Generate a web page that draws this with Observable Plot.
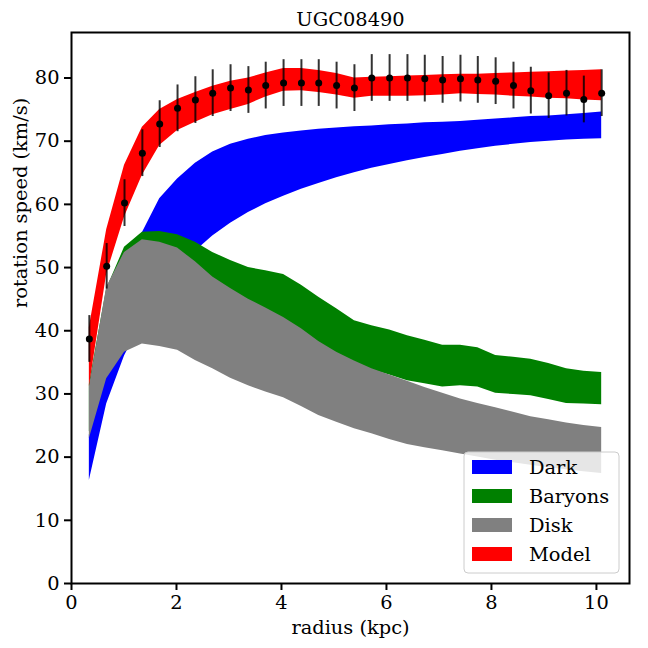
<!DOCTYPE html>
<html>
<head>
<meta charset="utf-8">
<script src="https://cdn.jsdelivr.net/npm/d3@7"></script>
<script src="https://cdn.jsdelivr.net/npm/@observablehq/plot@0.6"></script>
<style>
  html, body { margin: 0; padding: 0; background: white; }
</style>
</head>
<body>
<div id="chart"></div>
<script>
const radius = [0.34,0.67,1.01,1.35,1.68,2.02,2.36,2.69,3.03,3.37,3.70,4.04,4.38,4.71,5.05,5.39,5.72,6.06,6.40,6.73,7.07,7.41,7.74,8.08,8.42,8.75,9.09,9.43,9.76,10.10];
const vObs = [38.7,50.2,60.2,68.1,72.7,75.2,76.5,77.6,78.4,78.1,78.8,79.2,79.2,79.2,78.8,78.4,80.0,80.0,80.0,79.9,79.7,79.9,79.7,79.5,78.8,78.0,77.2,77.6,76.6,77.6];
const vErr = [3.7,3.6,3.7,3.7,3.7,3.7,3.7,3.7,3.7,3.7,3.7,3.7,3.7,3.7,3.7,3.7,3.7,3.7,3.7,3.7,3.7,3.7,3.7,3.7,3.7,3.7,3.6,3.6,3.7,3.7];

const darkLo = [16.3,28.4,36.0,41.5,46.0,49.6,52.6,55.0,57.0,58.7,60.1,61.3,62.4,63.3,64.2,65.0,65.7,66.3,66.9,67.4,67.9,68.4,68.8,69.2,69.5,69.8,70.0,70.2,70.3,70.4];
const darkHi = [23.5,36.0,46.0,55.5,60.9,64.0,66.5,68.3,69.5,70.3,70.9,71.3,71.6,71.9,72.1,72.3,72.4,72.6,72.7,72.9,73.0,73.1,73.3,73.5,73.7,73.9,74.0,74.2,74.4,74.6];

const baryLo = [24.0,34.0,38.0,39.5,39.6,39.3,39.2,39.0,39.0,39.0,38.8,38.5,37.5,36.5,35.5,34.5,33.8,33.0,32.1,31.6,31.1,31.3,31.1,30.1,29.9,29.7,29.1,28.5,28.4,28.3];
const baryHi = [31.5,46.6,53.2,55.6,55.7,55.2,54.0,52.4,51.1,50.0,49.5,48.9,47.2,45.3,43.5,41.6,40.8,40.1,39.2,38.5,37.7,37.7,37.3,36.1,35.8,35.5,34.8,34.0,33.6,33.4];

const diskLo = [22.9,32.4,36.6,37.9,37.5,36.9,35.3,34.0,32.5,31.3,30.3,29.4,28.0,26.6,25.5,24.5,23.7,22.8,22.0,21.5,21.0,20.5,20.0,19.5,19.1,18.7,18.3,18.0,17.7,17.4];
const diskHi = [31.1,46.9,52.4,54.4,54.0,53.1,50.9,48.5,46.7,45.0,43.6,42.1,40.3,38.3,36.6,35.2,34.0,33.0,32.0,31.0,30.1,29.2,28.5,27.8,27.1,26.4,25.9,25.4,25.0,24.7];

const modelLo = [31.1,49.0,58.0,64.6,69.3,71.7,73.0,74.2,75.0,75.8,77.0,77.9,78.0,77.7,77.3,76.8,77.1,77.1,77.1,77.2,77.3,77.5,77.4,77.3,77.1,77.0,76.8,76.7,76.5,76.4];
const modelHi = [40.5,56.0,66.2,72.2,75.0,76.6,77.7,78.7,79.5,80.0,80.8,81.5,81.5,81.2,80.7,80.0,80.1,80.2,80.3,80.4,80.5,80.6,80.6,80.7,80.8,80.9,81.0,81.1,81.2,81.3];

const xTicks = [0,2,4,6,8,10];
const yTicks = [0,10,20,30,40,50,60,70,80];
const legendLabels = ["Dark","Baryons","Disk","Model"];
const legendColors = ["#0000ff","#008000","#808080","#ff0000"];
const titleText = "UGC08490";
const xLabel = "radius (kpc)";
const yLabel = "rotation speed (km/s)";

const FS = 19.4;

const rows = radius.map((r, i) => ({
  r, v: vObs[i], e: vErr[i],
  darkLo: darkLo[i], darkHi: darkHi[i],
  baryLo: baryLo[i], baryHi: baryHi[i],
  diskLo: diskLo[i], diskHi: diskHi[i],
  modelLo: modelLo[i], modelHi: modelHi[i]
}));

const bands = [
  ["darkLo","darkHi"],
  ["baryLo","baryHi"],
  ["diskLo","diskHi"],
  ["modelLo","modelHi"]
];

const chart = Plot.plot({
  width: 648,
  height: 648,
  marginLeft: 71,
  marginRight: 19,
  marginTop: 32,
  marginBottom: 65,
  style: { fontFamily: "DejaVu Serif", fontSize: FS + "px", background: "white", color: "black" },
  x: { domain: [0, 10.63] },
  y: { domain: [0, 87.2] },
  marks: [
    ...bands.map((b, i) => Plot.areaY(rows, { x: "r", y1: b[0], y2: b[1], fill: legendColors[i] })),
    Plot.ruleX(rows, { x: "r", y1: d => d.v - d.e, y2: d => d.v + d.e, stroke: "black", strokeOpacity: 0.8, strokeWidth: 2 }),
    Plot.dot(rows, { x: "r", y: "v", r: 3.5, fill: "black" }),
    Plot.frame({ stroke: "black", strokeWidth: 2 }),
    Plot.axisX({ ticks: xTicks, tickSize: 7, tickPadding: 5, strokeWidth: 2, label: null, fontSize: FS }),
    Plot.axisY({ ticks: yTicks, tickSize: 7, tickPadding: 5, strokeWidth: 2, label: null, fontSize: FS }),
    Plot.text([titleText], { text: d => d, frameAnchor: "top", lineAnchor: "middle", dy: -13, fontSize: FS }),
    Plot.text([xLabel], { text: d => d, frameAnchor: "bottom", lineAnchor: "middle", dy: 44, fontSize: FS }),
    Plot.text([yLabel], { text: d => d, frameAnchor: "left", lineAnchor: "middle", dx: -51, rotate: -90, fontSize: FS })
  ]
});

// Legend inside the plot (lower right), like matplotlib
const svg = d3.select(chart);
const lg = svg.append("g").attr("font-family", "DejaVu Serif").attr("font-size", FS).attr("text-anchor", "start");
lg.append("rect")
  .attr("x", 464).attr("y", 452).attr("width", 155).attr("height", 121)
  .attr("rx", 4).attr("fill", "white").attr("fill-opacity", 0.8)
  .attr("stroke", "#cccccc").attr("stroke-width", 1);
legendLabels.forEach((lab, i) => {
  const cy = 467 + i * 29;
  lg.append("rect").attr("x", 472).attr("y", cy - 7).attr("width", 40).attr("height", 14).attr("fill", legendColors[i]);
  lg.append("text").attr("x", 529).attr("y", cy).attr("dy", "0.35em").attr("fill", "black").attr("text-anchor", "start").text(lab);
});

document.getElementById("chart").appendChild(chart);
</script>
</body>
</html>
